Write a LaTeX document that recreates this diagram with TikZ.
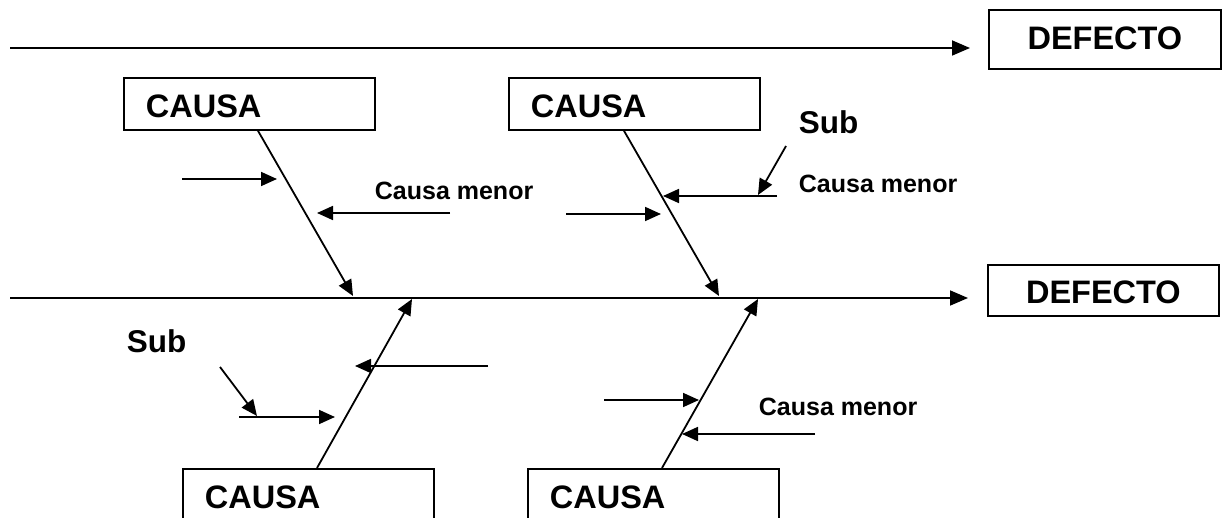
\documentclass[tikz,border=0pt]{standalone}
\usepackage{fontspec}
\setmainfont{Liberation Sans}
\usetikzlibrary{arrows.meta}
\begin{document}
\begin{tikzpicture}[x=1pt,y=-1pt,line width=1.8pt,
  arr/.style={-{Triangle[length=16pt,width=14pt]}},
  mainarr/.style={-{Triangle[length=18pt,width=15pt]}},
  causabox/.style={draw,font=\fontsize{32.5}{32.5}\selectfont\bfseries,minimum height=52pt,
    inner xsep=22pt,text width=207pt,align=left,text height=28pt,text depth=0pt,anchor=north west},
  defbox/.style={draw,font=\fontsize{32.5}{32.5}\selectfont\bfseries,text depth=0pt,anchor=north west},
  lab/.style={font=\fontsize{25}{25}\selectfont\bfseries,inner sep=0pt,anchor=base west},
  sublab/.style={font=\fontsize{31.5}{31.5}\selectfont\bfseries,inner sep=0pt,anchor=base west}]
\useasboundingbox (0,0) rectangle (1227,518);
\clip (0,0) rectangle (1227,518);

% effect boxes
\node[defbox,minimum width=232pt,minimum height=59pt,text height=21pt] (d1) at (988,9) {DEFECTO};
\node[defbox,minimum width=231pt,minimum height=51pt,text height=27pt] (d2) at (987,264) {DEFECTO};

% main lines
\coordinate (m1s) at (10,48);
\coordinate (m2s) at (10,298);
\draw[mainarr,shorten >=18pt] (m1s) -- (m1s -| d1.west);
\draw[mainarr,shorten >=19pt] (m2s) -- (m2s -| d2.west);

% cause boxes
\node[causabox] (c1) at (123,77) {CAUSA};
\node[causabox] (c2) at (508,77) {CAUSA};
\node[causabox] (c3) at (182,468) {CAUSA};
\node[causabox] (c4) at (527,468) {CAUSA};

% bones
\coordinate (t1) at (353,296);
\coordinate (t2) at (719,296);
\coordinate (t3) at (412,299);
\coordinate (t4) at (758,299);
\draw[arr] ([xshift=135pt]c1.south west) -- (t1);
\draw[arr] ([xshift=116pt]c2.south west) -- (t2);
\draw[arr] ([xshift=135pt]c3.north west) -- (t3);
\draw[arr] ([xshift=135pt]c4.north west) -- (t4);

% minor causes
\coordinate (a1s) at (182,179);  \coordinate (a1e) at (277,179);
\coordinate (a2s) at (450,213);  \coordinate (a2e) at (317,213);
\coordinate (a3s) at (777,196);  \coordinate (a3e) at (663,196);
\coordinate (a4s) at (786,146);  \coordinate (a4e) at (758,195);
\coordinate (a5s) at (566,214);  \coordinate (a5e) at (661,214);
\coordinate (a6s) at (488,366);  \coordinate (a6e) at (355,366);
\coordinate (a7s) at (220,367);  \coordinate (a7e) at (257,416);
\coordinate (a8s) at (239,417);  \coordinate (a8e) at (335,417);
\coordinate (a9s) at (604,400);  \coordinate (a9e) at (699,400);
\coordinate (a10s) at (815,434); \coordinate (a10e) at (682,434);
\foreach \i in {1,...,10} {\draw[arr] (a\i s) -- (a\i e);}

% labels
\node[lab] (cm1) at (374,200) {Causa menor};
\node[lab] (cm2) at (798,193) {Causa menor};
\node[lab] (cm3) at (758,416) {Causa menor};
\node[sublab] (sub1) at (798,134) {Sub};
\node[sublab] (sub2) at (126,353) {Sub};
\end{tikzpicture}
\end{document}
